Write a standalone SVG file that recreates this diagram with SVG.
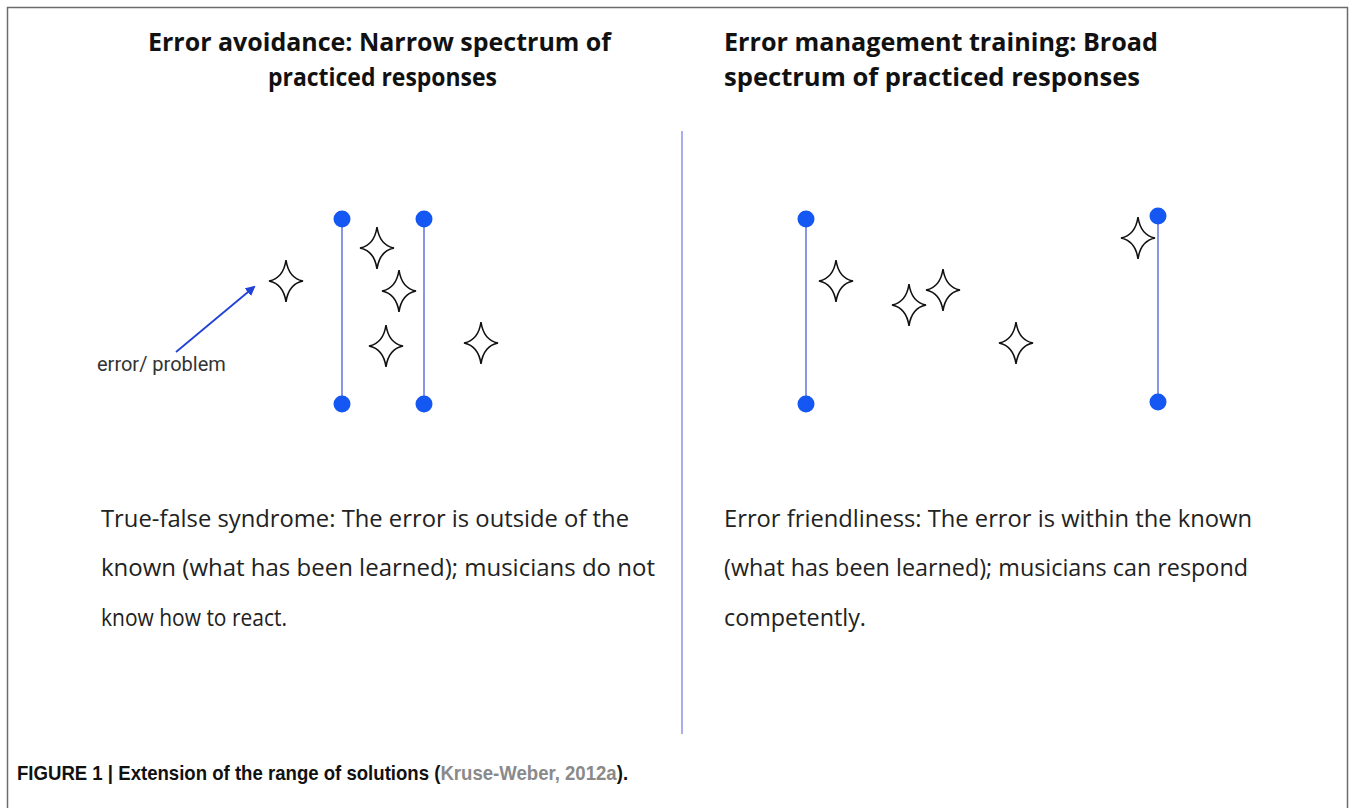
<svg xmlns="http://www.w3.org/2000/svg" xmlns:xlink="http://www.w3.org/1999/xlink" width="1349" height="808" viewBox="0 0 1349 808">
  <style>
    .frame { stroke: #6b6b6b; stroke-width: 1.5; fill: none; }
    .title { font-family: "Open Sans", "Noto Sans", sans-serif; font-weight: 700; font-size: 25px; fill: #111; }
    .body { font-family: "Open Sans", "Noto Sans", sans-serif; font-size: 23px; fill: #222; }
    .label { font-family: Roboto, "Liberation Sans", sans-serif; font-size: 20px; fill: #333; }
    .caption { font-family: "Liberation Sans Narrow", "Liberation Sans", sans-serif; font-weight: 700; font-size: 20px; fill: #111; }
    .cite { fill: #8a8a8a; }
    .range { stroke: #8c94e6; stroke-width: 2; }
    .dot { fill: #1457f2; }
    .divider { stroke: #8c94e6; stroke-width: 1.5; }
    .star { fill: #fff; stroke: #111; stroke-width: 1.6; stroke-linejoin: miter; }
  </style>
  <defs>
    <path id="star" class="star" d="M0,-21 Q2.5,-3 17,0 Q2.5,3 0,21 Q-2.5,3 -17,0 Q-2.5,-3 0,-21 Z"/>
    <marker id="arrowhead" markerWidth="10" markerHeight="10" refX="8" refY="5" orient="auto" markerUnits="userSpaceOnUse">
      <path d="M0,0 L10,5 L0,10 Z" fill="#2142d6"/>
    </marker>
  </defs>

  <rect width="1349" height="808" fill="#fff"/>

  <!-- outer frame (open at the bottom) -->
  <path class="frame" d="M7.5,808 V7.5 H1347.5 V808"/>

  <!-- panel headings -->
  <g id="title-left">
    <text class="title" x="148" y="51" textLength="463" lengthAdjust="spacingAndGlyphs">Error avoidance: Narrow spectrum of</text>
    <text class="title" x="268" y="86" textLength="229" lengthAdjust="spacingAndGlyphs">practiced responses</text>
  </g>
  <g id="title-right">
    <text class="title" x="724" y="51" textLength="434" lengthAdjust="spacingAndGlyphs">Error management training: Broad</text>
    <text class="title" x="724" y="86" textLength="416" lengthAdjust="spacingAndGlyphs">spectrum of practiced responses</text>
  </g>

  <!-- divider between the two panels -->
  <line class="divider" x1="682" y1="131" x2="682" y2="734"/>

  <!-- connectors -->
  <g id="connectors">
    <line x1="176" y1="352" x2="254" y2="287" stroke="#2142d6" stroke-width="1.8" marker-end="url(#arrowhead)"/>
  </g>

  <!-- left panel: narrow range -->
  <g id="range-left-a">
    <line class="range" x1="342" y1="219" x2="342" y2="404"/>
    <circle class="dot" cx="342" cy="219" r="8.5"/>
    <circle class="dot" cx="342" cy="404" r="8.5"/>
  </g>
  <g id="range-left-b">
    <line class="range" x1="424" y1="219" x2="424" y2="404"/>
    <circle class="dot" cx="424" cy="219" r="8.5"/>
    <circle class="dot" cx="424" cy="404" r="8.5"/>
  </g>
  <g id="errors-left">
    <use xlink:href="#star" x="286" y="281"/>
    <use xlink:href="#star" x="377" y="248"/>
    <use xlink:href="#star" x="399" y="291"/>
    <use xlink:href="#star" x="386" y="346"/>
    <use xlink:href="#star" x="481" y="343"/>
  </g>
  <g id="label-error">
    <text class="label" x="97" y="371">error/ problem</text>
  </g>

  <!-- right panel: broad range -->
  <g id="range-right-a">
    <line class="range" x1="806" y1="219" x2="806" y2="404"/>
    <circle class="dot" cx="806" cy="219" r="8.5"/>
    <circle class="dot" cx="806" cy="404" r="8.5"/>
  </g>
  <g id="range-right-b">
    <line class="range" x1="1158" y1="216" x2="1158" y2="402"/>
    <circle class="dot" cx="1158" cy="216" r="8.5"/>
    <circle class="dot" cx="1158" cy="402" r="8.5"/>
  </g>
  <g id="errors-right">
    <use xlink:href="#star" x="836" y="281"/>
    <use xlink:href="#star" x="909" y="305"/>
    <use xlink:href="#star" x="943" y="290"/>
    <use xlink:href="#star" x="1016" y="343"/>
    <use xlink:href="#star" x="1138" y="238"/>
  </g>

  <!-- panel descriptions -->
  <g id="text-left">
    <text class="body" x="101" y="527" textLength="528" lengthAdjust="spacingAndGlyphs">True-false syndrome: The error is outside of the</text>
    <text class="body" x="101" y="576" textLength="554" lengthAdjust="spacingAndGlyphs">known (what has been learned); musicians do not</text>
    <text class="body" x="101" y="626" textLength="186" lengthAdjust="spacingAndGlyphs">know how to react.</text>
  </g>
  <g id="text-right">
    <text class="body" x="724" y="527" textLength="528" lengthAdjust="spacingAndGlyphs">Error friendliness: The error is within the known</text>
    <text class="body" x="724" y="576" textLength="524" lengthAdjust="spacingAndGlyphs">(what has been learned); musicians can respond</text>
    <text class="body" x="724" y="626" textLength="142" lengthAdjust="spacingAndGlyphs">competently.</text>
  </g>

  <!-- caption, condensed horizontally -->
  <g id="caption" transform="translate(17,780) scale(0.93,1)">
    <text class="caption" x="0" y="0">FIGURE 1 | Extension of the range of solutions (<tspan class="cite">Kruse-Weber, 2012a</tspan>).</text>
  </g>
</svg>
